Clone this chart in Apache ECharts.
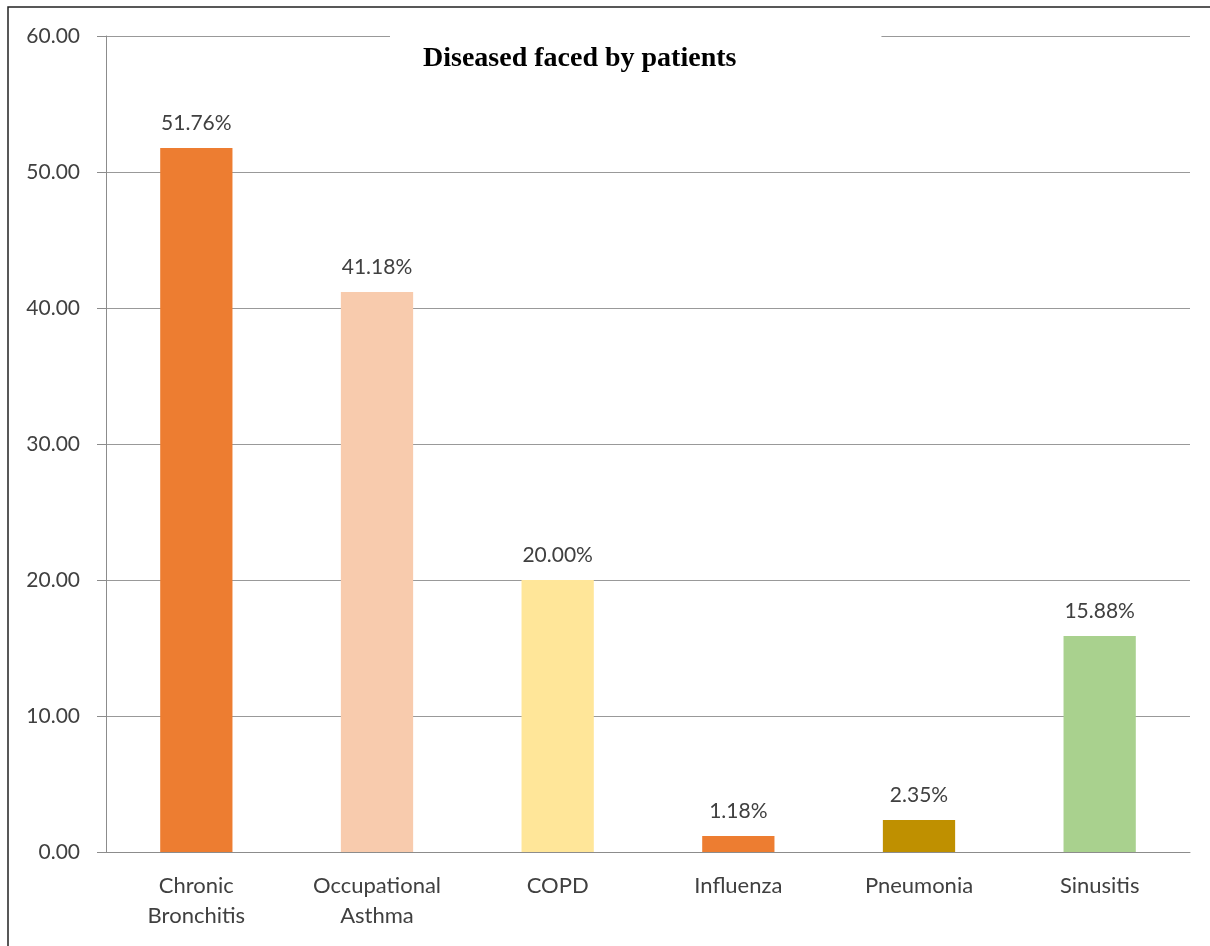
<!DOCTYPE html>
<html>
<head>
<meta charset="utf-8">
<script src="https://cdn.jsdelivr.net/npm/echarts@6/dist/echarts.min.js"></script>
<style>
  html, body { margin: 0; padding: 0; background: #fff; }
  #chart { width: 1210px; height: 946px; }
</style>
</head>
<body>
<div id="chart"></div>
<script>
// data
var categories = ['Chronic\nBronchitis', 'Occupational\nAsthma', 'COPD', 'Influenza', 'Pneumonia', 'Sinusitis'];
var values = [51.76, 41.18, 20.00, 1.18, 2.35, 15.88];
var barColors = ['#ED7D31', '#F8CBAD', '#FFE699', '#ED7D31', '#BF9000', '#A9D18E'];
var titleText = 'Diseased faced by patients';

var labelFont = 'Lato, "Open Sans", sans-serif';
var textColor = '#404040';

var chartDom = document.getElementById('chart');
var myChart = echarts.init(chartDom);

var seriesData = [];
for (var i = 0; i < values.length; i++) {
    seriesData.push({ value: values[i], itemStyle: { color: barColors[i] } });
}

var option = {
    animation: false,
    title: {
        text: titleText,
        left: 390,
        top: 28,
        padding: [17, 145, 12, 33],
        backgroundColor: '#fff',
        textStyle: {
            fontFamily: '"Liberation Serif", "Times New Roman", serif',
            fontWeight: 'bold',
            fontSize: 28,
            color: '#000'
        }
    },
    graphic: [{
        type: 'rect',
        z: 100,
        shape: { x: 8, y: 7, width: 1220, height: 960 },
        style: { fill: 'none', stroke: '#222', lineWidth: 1.5 }
    }],
    grid: {
        left: 106,
        right: 20,
        top: 36,
        bottom: 94
    },
    xAxis: {
        type: 'category',
        data: categories,
        axisLine: { lineStyle: { color: '#8c8c8c', width: 1 } },
        axisTick: { length: 8, lineStyle: { color: '#8c8c8c' } },
        axisLabel: {
            margin: 19,
            interval: 0,
            fontFamily: labelFont,
            fontSize: 22,
            lineHeight: 30,
            color: textColor
        }
    },
    yAxis: {
        type: 'value',
        min: 0,
        max: 60,
        interval: 10,
        axisLine: { show: true, lineStyle: { color: '#8c8c8c', width: 1 } },
        axisTick: { show: true, length: 9, lineStyle: { color: '#8c8c8c' } },
        splitLine: { lineStyle: { color: '#999', width: 1 } },
        axisLabel: {
            margin: 26,
            fontFamily: labelFont,
            fontSize: 21,
            color: textColor,
            formatter: function (value) {
                return value.toFixed(2);
            }
        }
    },
    series: [{
        type: 'bar',
        data: seriesData,
        barWidth: '40%',
        label: {
            show: true,
            position: 'top',
            distance: 14,
            fontFamily: labelFont,
            fontSize: 21,
            color: textColor,
            formatter: function (p) {
                return p.value.toFixed(2) + '%';
            }
        }
    }]
};

myChart.setOption(option);
</script>
</body>
</html>
